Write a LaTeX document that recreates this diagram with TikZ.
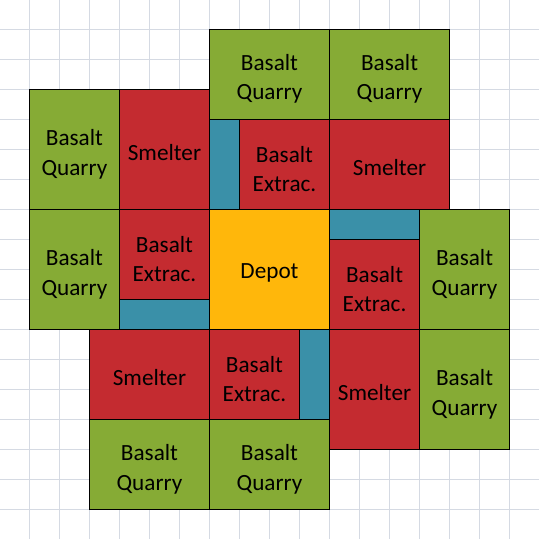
\documentclass[tikz,border=0pt]{standalone}
\usepackage{fontspec}
\setmainfont{Carlito}
\usepackage{tikz}

\definecolor{quarrygreen}{HTML}{86AB35}
\definecolor{smeltred}{HTML}{C42B30}
\definecolor{beltblue}{HTML}{3A90A8}
\definecolor{depotgold}{HTML}{FFB70B}
\definecolor{cellgray}{HTML}{D5DAE3}

\begin{document}
\begin{tikzpicture}[x=1cm,y=1cm,
    tile/.style={draw=black, line width=0.7pt, inner sep=0pt, outer sep=0pt, anchor=north west,
        align=center, font=\fontsize{22}{28}\selectfont},
    quarry/.style={tile, fill=quarrygreen, text height=52pt},
    smelt/.style={tile, fill=smeltred, text height=21pt},
    extrac/.style={tile, fill=smeltred, text height=52pt},
    belt/.style={tile, fill=beltblue},
    depot/.style={tile, fill=depotgold, text height=21pt}]
    \useasboundingbox (-0.98,-16.98) rectangle (16.98,0.98);
    \fill[white] (-0.98,-16.98) rectangle (16.98,0.98);
    \draw[cellgray, line width=0.7pt] (-1,-17) grid (17,1);
    % top row
    \node[quarry, minimum width=4cm, minimum height=3cm] (q1) at (6,0) {Basalt\\Quarry};
    \node[quarry, minimum width=4cm, minimum height=3cm] (q2) at (10,0) {Basalt\\Quarry};
    % second band
    \node[quarry, minimum width=3cm, minimum height=4cm] (q3) at (0,-2) {Basalt\\Quarry};
    \node[smelt, minimum width=3cm, minimum height=4cm] (s1) at (3,-2) {Smelter};
    \node[belt, minimum width=1cm, minimum height=3cm] (b1) at (6,-3) {};
    \node[extrac, minimum width=3cm, minimum height=3cm] (e1) at (7,-3) {Basalt\\Extrac.};
    \node[smelt, minimum width=4cm, minimum height=3cm] (s2) at (10,-3) {Smelter};
    % middle band
    \node[quarry, minimum width=3cm, minimum height=4cm] (q4) at (0,-6) {Basalt\\Quarry};
    \node[extrac, minimum width=3cm, minimum height=3cm] (e2) at (3,-6) {Basalt\\Extrac.};
    \node[belt, minimum width=3cm, minimum height=1cm] (b2) at (3,-9) {};
    \node[depot, minimum width=4cm, minimum height=4cm] (dp) at (6,-6) {Depot};
    \node[belt, minimum width=3cm, minimum height=1cm] (b3) at (10,-6) {};
    \node[extrac, minimum width=3cm, minimum height=3cm] (e3) at (10,-7) {Basalt\\Extrac.};
    \node[quarry, minimum width=3cm, minimum height=4cm] (q5) at (13,-6) {Basalt\\Quarry};
    % lower band
    \node[smelt, minimum width=4cm, minimum height=3cm] (s3) at (2,-10) {Smelter};
    \node[extrac, minimum width=3cm, minimum height=3cm] (e4) at (6,-10) {Basalt\\Extrac.};
    \node[belt, minimum width=1cm, minimum height=3cm] (b4) at (9,-10) {};
    \node[smelt, minimum width=3cm, minimum height=4cm] (s4) at (10,-10) {Smelter};
    \node[quarry, minimum width=3cm, minimum height=4cm] (q6) at (13,-10) {Basalt\\Quarry};
    % bottom row
    \node[quarry, minimum width=4cm, minimum height=3cm] (q7) at (2,-13) {Basalt\\Quarry};
    \node[quarry, minimum width=4cm, minimum height=3cm] (q8) at (6,-13) {Basalt\\Quarry};
\end{tikzpicture}
\end{document}
